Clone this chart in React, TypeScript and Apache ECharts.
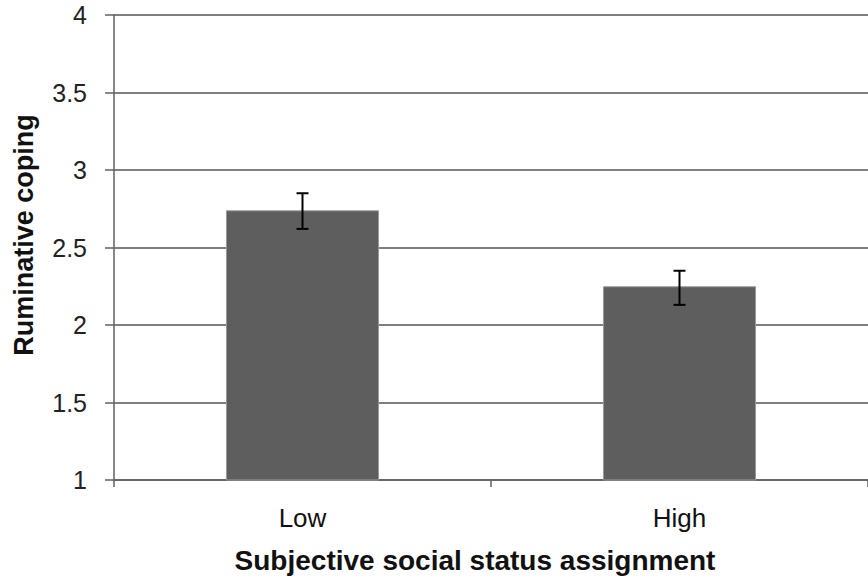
import React, { useEffect, useRef } from "react";
import * as echarts from "echarts";

const categories = ["Low", "High"];
const means = [2.74, 2.25];
const errLow = [2.62, 2.13];
const errHigh = [2.85, 2.35];
const yTicks = { min: 1, max: 4, interval: 0.5 };
const xAxisTitle = "Subjective social status assignment";
const yAxisTitle = "Ruminative coping";

export default function App() {
  const ref = useRef<HTMLDivElement>(null);
  useEffect(() => {
    const chart = echarts.init(ref.current!, null, { renderer: "svg" });
    const font = "Liberation Sans, Arial, sans-serif";
    chart.setOption({
      animation: false,
      backgroundColor: "#ffffff",
      grid: { left: 114, right: 0, top: 15, bottom: 102, containLabel: false },
      xAxis: {
        type: "category",
        data: categories,
        axisLine: { lineStyle: { color: "#606060", width: 1.5 } },
        axisTick: { show: true, alignWithLabel: false, length: 7, lineStyle: { color: "#606060", width: 1.5 } },
        axisLabel: { fontSize: 26, color: "#111", fontFamily: font, margin: 25 },
        name: xAxisTitle,
        nameLocation: "middle",
        nameGap: 66,
        nameTextStyle: { fontSize: 28, fontWeight: "bold", color: "#111", fontFamily: font, padding: [0, 32, 0, 0] },
      },
      yAxis: {
        type: "value",
        min: yTicks.min,
        max: yTicks.max,
        interval: yTicks.interval,
        axisLine: { show: true, lineStyle: { color: "#606060", width: 1.5 } },
        axisTick: { show: true, length: 9, lineStyle: { color: "#606060", width: 1.5 } },
        splitLine: { show: true, lineStyle: { color: "#555555", width: 1.5 } },
        axisLabel: { fontSize: 25, color: "#222", fontFamily: font, margin: 27 },
        name: yAxisTitle,
        nameLocation: "middle",
        nameGap: 77,
        nameRotate: 90,
        nameTextStyle: { fontSize: 27, fontWeight: "bold", color: "#111", fontFamily: font, padding: [0, 0, 0, 25] },
      },
      series: [
        {
          type: "bar",
          data: means,
          barWidth: "40.6%",
          itemStyle: { color: "#5e5e5e", borderColor: "#9a9a9a", borderWidth: 1 },
          z: 2,
        },
        {
          type: "custom",
          z: 3,
          data: categories.map((_, i) => [i, errLow[i], errHigh[i]]),
          renderItem: (params: any, api: any) => {
            const x = api.value(0);
            const lo = api.coord([x, api.value(1)]);
            const hi = api.coord([x, api.value(2)]);
            const cap = 6;
            const style = { stroke: "#000", lineWidth: 2 };
            return {
              type: "group",
              children: [
                { type: "line", shape: { x1: lo[0], y1: lo[1], x2: hi[0], y2: hi[1] }, style },
                { type: "line", shape: { x1: lo[0] - cap, y1: lo[1], x2: lo[0] + cap, y2: lo[1] }, style },
                { type: "line", shape: { x1: hi[0] - cap, y1: hi[1], x2: hi[0] + cap, y2: hi[1] }, style },
              ],
            };
          },
        },
      ],
    });
    return () => chart.dispose();
  }, []);
  return (
    <div
      ref={ref}
      style={{ position: "fixed", left: 0, top: 0, width: 868, height: 582 }}
    />
  );
}
